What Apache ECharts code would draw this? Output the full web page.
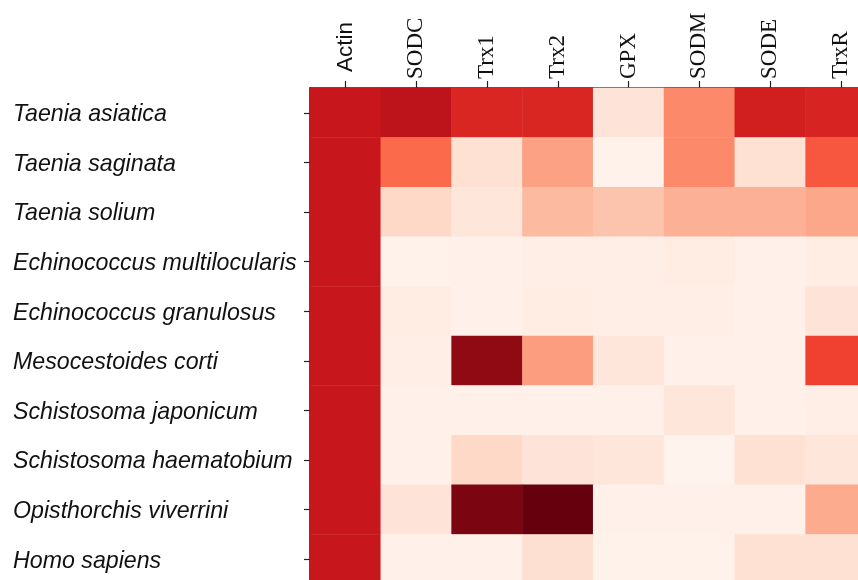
<!DOCTYPE html>
<html>
<head>
<meta charset="utf-8">
<script src="https://cdn.jsdelivr.net/npm/echarts@6/dist/echarts.min.js"></script>
<style>
html,body{margin:0;padding:0;background:#fff;}
#chart{width:858px;height:580px;}
</style>
</head>
<body>
<div id="chart"></div>
<script>
const genes = ['Actin','SODC','Trx1','Trx2','GPX','SODM','SODE','TrxR'];
const species = ['Taenia asiatica','Taenia saginata','Taenia solium','Echinococcus multilocularis','Echinococcus granulosus','Mesocestoides corti','Schistosoma japonicum','Schistosoma haematobium','Opisthorchis viverrini','Homo sapiens'];

// one array per species, values in gene order (0..1 on the Reds scale)
const taeniaAsiatica      = [0.76, 0.80, 0.70, 0.70, 0.10, 0.40, 0.73, 0.71];
const taeniaSaginata      = [0.76, 0.50, 0.12, 0.33, 0.02, 0.40, 0.12, 0.55];
const taeniaSolium        = [0.76, 0.15, 0.09, 0.25, 0.22, 0.28, 0.28, 0.31];
const echinoMulti         = [0.76, 0.02, 0.03, 0.04, 0.04, 0.05, 0.03, 0.05];
const echinoGran          = [0.76, 0.05, 0.03, 0.05, 0.04, 0.04, 0.03, 0.10];
const mesocestoidesCorti  = [0.76, 0.04, 0.92, 0.34, 0.09, 0.03, 0.03, 0.61];
const schistoJaponicum    = [0.76, 0.03, 0.03, 0.03, 0.03, 0.09, 0.03, 0.04];
const schistoHaematobium  = [0.76, 0.03, 0.15, 0.10, 0.09, 0.01, 0.12, 0.09];
const opisthorchis        = [0.76, 0.10, 0.96, 1.00, 0.03, 0.03, 0.03, 0.30];
const homoSapiens         = [0.76, 0.03, 0.03, 0.125, 0.02, 0.02, 0.12, 0.12];

const rows = [taeniaAsiatica, taeniaSaginata, taeniaSolium, echinoMulti, echinoGran,
              mesocestoidesCorti, schistoJaponicum, schistoHaematobium, opisthorchis, homoSapiens];

const reds = ['#fff5f0','#fee0d2','#fcbba1','#fc9272','#fb6a4a','#ef3b2c','#cb181d','#a50f15','#67000d'];

const data = [];
rows.forEach((r, yi) => r.forEach((v, xi) => data.push([xi, yi, v])));

const chart = echarts.init(document.getElementById('chart'), null, {renderer:'canvas'});
chart.setOption({
  animation: false,
  backgroundColor: '#ffffff',
  grid: {left: 310, top: 88, width: 566.4, height: 496, outerBoundsMode: 'none', containLabel: false},
  visualMap: {show: false, min: 0, max: 1, calculable: false, dimension: 2,
              inRange: {color: reds}},
  xAxis: {
    type: 'category', position: 'top', data: genes,
    axisLine: {show: true, lineStyle: {color: '#222', width: 1.6}},
    axisTick: {show: true, alignWithLabel: true, length: 7, lineStyle: {color: '#222', width: 1.2}},
    splitLine: {show: false},
    axisLabel: {
      rotate: -90, margin: 9, color: '#111',
      fontFamily: 'Liberation Serif', fontSize: 23,
      formatter: v => v === 'Actin' ? '{s|' + v + '}' : '{t|' + v + '}',
      rich: {
        s: {fontFamily: 'Liberation Sans', fontSize: 22.5, color: '#111', padding: [0, 0, 0, 7]},
        t: {fontFamily: 'Liberation Serif', fontSize: 23, color: '#111'}
      }
    }
  },
  yAxis: {
    type: 'category', inverse: true, data: species,
    axisLine: {show: true, lineStyle: {color: '#222', width: 1.6}},
    axisTick: {show: true, alignWithLabel: true, length: 6, lineStyle: {color: '#222', width: 1.2}},
    splitLine: {show: false},
    axisLabel: {
      align: 'left', margin: 297, color: '#111',
      fontFamily: 'Liberation Sans', fontStyle: 'italic', fontSize: 23.2,
      formatter: v => '{n|' + v + '}',
      rich: {
        n: {fontFamily: 'Liberation Sans', fontStyle: 'italic', fontSize: 23.2, color: '#111',
            padding: [4, 0, 0, 0]}
      }
    }
  },
  series: [{
    type: 'heatmap', data: data,
    itemStyle: {borderWidth: 0},
    emphasis: {disabled: true},
    label: {show: false}
  }]
});
</script>
</body>
</html>
